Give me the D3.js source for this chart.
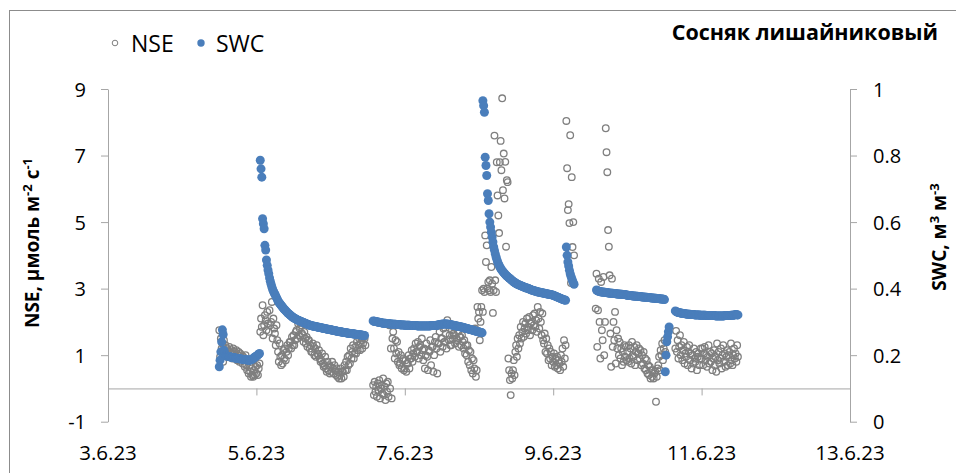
<!DOCTYPE html>
<html>
<head>
<meta charset="utf-8">
<script src="https://cdn.jsdelivr.net/npm/d3@7"></script>
<style>
  html, body { margin: 0; padding: 0; background: #ffffff; }
  svg { display: block; }
  text { font-family: "Open Sans", "Noto Sans", sans-serif; fill: #000; }
</style>
</head>
<body>
<svg id="chart" width="956" height="473"></svg>
<script>
// ---------------- DATA ----------------
const chartTitle = "Сосняк лишайниковый";
const seriesNames = ["NSE", "SWC"];
const xTickDates = ["2023-06-03", "2023-06-05", "2023-06-07", "2023-06-09", "2023-06-11", "2023-06-13"];
const xTickLabels = ["3.6.23", "5.6.23", "7.6.23", "9.6.23", "11.6.23", "13.6.23"];
const leftTicks = [-1, 1, 3, 5, 7, 9];
const leftTickLabels = ["-1", "1", "3", "5", "7", "9"];
const rightTicks = [0, 0.2, 0.4, 0.6, 0.8, 1];
const rightTickLabels = ["0", "0.2", "0.4", "0.6", "0.8", "1"];

// each day's series: 15-minute readings starting at the given time
const dayStarts = ["2023-06-04T12:00", "2023-06-05T00:00", "2023-06-06T00:00", "2023-06-07T00:00",
                   "2023-06-08T00:00", "2023-06-09T00:00", "2023-06-10T00:00", "2023-06-11T00:00"];
const stepMinutes = 15;

// NSE, µmol m-2 s-1
const nseJun4 = [1.75,0.95,1.5,1.2, 1.35,0.8,1.45,1.1, 1.3,1.05,1.2,1.15, 1.0,1.25,1.1,0.95,
  1.15,0.9,1.2,1.05, 1.1,0.95,1.15,0.85, 1.0,1.1,0.8,1.05, 0.9,1.0,0.75,0.95,
  0.85,0.65,1.0,0.7, 0.55,0.8,0.45,0.7, 0.5,0.35,0.6,0.4, 0.35,0.55,0.4,0.65];
const nseJun5 = [0.45,0.7,0.4,0.6, 0.75,1.7,2.1,1.85, 2.5,1.6,1.9,2.2, 2.05,1.75,2.3,1.95,
  1.7,2.35,1.9,2.0, 2.6,1.5,2.1,1.8, 1.65,1.3,1.9,1.45, 1.1,0.8,1.35,0.95,
  0.7,1.0,0.75,1.15, 0.9,1.2,0.85,1.1, 1.3,1.0,1.2,1.4, 1.4,1.2,1.55,1.3,
  1.6,1.3,1.45,1.7, 1.75,1.5,1.95,1.6, 1.8,1.55,1.9,1.65, 1.6,1.4,1.7,1.5,
  1.35,1.55,1.25,1.45, 1.45,1.2,1.3,1.1, 1.1,1.35,1.25,1.0, 1.2,0.95,1.3,1.05,
  1.0,1.15,0.9,0.8, 0.85,1.05,0.75,0.65, 0.7,0.95,0.6,0.5, 0.8,0.55,0.7,0.45];
const nseJun6 = [0.65,0.5,0.8,0.6, 0.45,0.7,0.55,0.4, 0.6,0.35,0.5,0.3, 0.4,0.6,0.3,0.5,
  0.5,0.35,0.7,0.55, 0.8,0.55,0.95,0.7, 1.0,0.75,1.2,0.9, 1.1,1.3,0.9,1.05,
  1.25,1.05,1.4,1.15, 1.3,1.5,1.15,1.35, 1.45,1.2,1.35,1.55, 1.5,1.3,null,null,
  null,null,null,null, null,null,null,0.1, -0.2,0.2,-0.1,0.05, -0.25,0.15,-0.05,0.25,
  -0.3,0.0,0.1,-0.15, 0.3,-0.2,0.05,-0.35, 0.15,-0.1,0.2,-0.25, 1.9,0.0,1.2,-0.3,
  1.5,1.7,1.2,0.9, 1.45,1.05,1.4,0.8, 1.1,0.7,0.75,1.0, 0.6,0.85,0.9,0.55];
const nseJun7 = [0.6,0.85,0.5,0.75, 0.75,1.0,0.6,0.9, 0.9,1.15,0.8,1.05, 1.2,0.95,1.35,1.1,
  1.1,1.4,0.9,1.25, 1.3,1.0,1.5,1.15, 0.85,1.2,0.6,1.0, 1.35,0.95,0.55,1.15,
  1.1,1.45,0.7,1.25, 1.25,0.5,1.0,1.4, 1.55,1.2,0.45,1.35, 1.35,1.7,1.1,1.5,
  1.5,1.25,1.8,1.4, 1.4,1.65,1.2,2.05, 1.9,1.45,1.6,1.3, 1.3,1.75,1.5,1.65,
  1.6,1.35,1.85,1.5, 1.45,1.7,1.25,1.55, 1.55,1.3,1.6,1.4, 1.2,1.45,1.05,1.3,
  1.0,1.3,0.8,1.15, 0.7,1.1,0.55,0.9, 0.45,0.85,0.6,1.8, 0.35,0.55,2.45,2.1];
const nseJun8 = [2.3,1.45,2.0,2.45, 2.95,2.3,3.0,2.9, 4.6,3.8,4.3,3.0, 3.2,2.95,3.25,2.9,
  3.65,3.15,2.27,2.95, 7.6,3.25,2.9,6.8, 5.8,5.2,4.67,6.8, 7.44,6.56,8.72,5.96,
  7.06,5.71,6.81,4.26, 6.26,6.2,0.9,0.55, 0.25,-0.2,0.45,0.3, 0.55,0.85,0.4,1.1,
  1.3,0.95,1.5,1.2, 1.6,1.35,1.85,1.5, 1.7,2.0,1.55,1.8, 1.95,1.65,2.1,1.75,
  1.85,2.15,1.6,1.95, 2.0,1.75,2.2,1.9, 2.25,1.85,2.05,1.7, 2.45,2.1,1.8,2.3,
  2.0,1.6,2.25,1.45, 1.35,1.65,1.1,1.5, 1.05,1.3,0.85,1.2, 0.9,1.1,0.7,0.95];
const nseJun9 = [0.8,1.05,0.65,0.9, 0.7,0.95,0.6,0.85, 0.75,0.55,1.0,0.8, 1.2,0.65,1.45,0.9,
  1.3,8.04,6.62,5.36, 5.54,4.97,7.61,3.17, 6.35,4.25,5.0,4.0, null,null,null,null,
  null,null,null,null, null,null,null,null, null,null,null,null, null,null,null,null,
  null,null,null,null, null,null,null,2.4, 3.45,1.25,2.35,3.3, 2.0,0.9,3.2,1.75,
  1.45,3.35,1.0,2.0, 7.82,7.1,6.5,4.76, 4.26,3.4,1.65,0.65, 3.3,1.25,2.0,1.45,
  2.3,0.75,1.75,1.2, 1.5,1.0,1.4,0.9, 1.2,0.7,1.1,0.8, 1.3,0.95,1.25,0.85];
const nseJun10 = [1.1,0.8,1.3,0.9, 1.2,0.75,1.4,1.0, 0.95,1.25,0.7,1.1, 1.3,0.85,1.05,1.2,
  0.9,1.15,0.7,1.0, 0.75,1.1,0.6,0.9, 0.55,0.85,0.45,0.7, 0.4,0.65,0.3,0.55,
  0.35,0.55,0.3,0.45, 0.5,-0.4,0.35,0.6, 0.7,0.95,0.55,1.15, 1.0,1.35,0.85,1.2,
  1.45,1.1,null,null, null,null,null,null, null,null,null,null, null,null,1.2,1.73,
  1.1,1.45,0.9,1.25, 1.6,1.0,1.3,0.85, 1.15,1.4,0.75,1.05, 0.95,1.25,0.7,1.1,
  1.3,0.85,1.05,0.6, 1.0,0.75,1.2,0.9, 0.8,1.1,0.55,0.95, 1.05,0.7,0.9,1.2];
const nseJun11 = [0.9,1.2,0.7,1.05, 1.25,0.85,1.0,0.65, 0.95,1.3,0.75,1.1, 0.8,1.05,0.55,0.9,
  1.15,0.7,0.95,0.5, 1.35,0.85,1.1,0.75, 0.9,1.2,0.6,1.0, 1.3,0.8,1.05,0.65,
  0.95,1.15,0.7,1.0, 1.1,0.75,1.35,0.85, 0.7,1.0,1.2,0.9, 1.05,0.8,1.3,0.95];

// SWC, m3 m-3
const swcJun4 = [0.165,0.185,0.21,0.24, 0.276,0.262,0.215,0.205, 0.2,0.198,0.197,0.196, 0.196,0.195,0.195,0.194,
  0.194,0.193,0.193,0.192, 0.192,0.191,0.191,0.19, 0.19,0.19,0.189,0.189, 0.188,0.188,0.188,0.187,
  0.187,0.187,0.186,0.186, 0.186,0.185,0.185,0.185, 0.185,0.186,0.187,0.189, 0.19,0.192,0.194,0.196];
const swcJun5 = [0.197,0.199,0.201,0.203, 0.205,0.786,0.76,0.735, 0.61,0.595,0.58,0.53, 0.516,0.486,0.47,0.456,
  0.445,0.432,0.422,0.413, 0.405,0.398,0.392,0.387, 0.383,0.378,0.373,0.368, 0.363,0.359,0.356,0.353,
  0.35,0.347,0.344,0.341, 0.338,0.336,0.333,0.331, 0.328,0.326,0.324,0.322, 0.32,0.318,0.316,0.314,
  0.313,0.311,0.31,0.309, 0.307,0.306,0.305,0.304, 0.303,0.302,0.301,0.3, 0.299,0.298,0.297,0.296,
  0.295,0.294,0.293,0.292, 0.291,0.29,0.29,0.289, 0.288,0.288,0.287,0.287, 0.286,0.286,0.285,0.285,
  0.284,0.284,0.283,0.283, 0.282,0.282,0.281,0.281, 0.28,0.28,0.279,0.279, 0.278,0.278,0.277,0.277];
const swcJun6 = [0.276,0.276,0.275,0.275, 0.274,0.274,0.273,0.273, 0.272,0.272,0.271,0.271, 0.27,0.27,0.27,0.269,
  0.269,0.268,0.268,0.268, 0.267,0.267,0.266,0.266, 0.266,0.265,0.265,0.265, 0.264,0.264,0.264,0.263,
  0.263,0.263,0.262,0.262, 0.262,0.261,0.261,0.261, 0.26,0.26,0.26,0.259, 0.259,null,null,null,
  null,null,null,null, null,null,null,0.303, 0.302,0.302,0.301,0.301, 0.3,0.3,0.299,0.299,
  0.298,0.298,0.297,0.297, 0.296,0.296,0.296,0.296, 0.295,0.295,0.295,0.295, 0.294,0.294,0.294,0.294,
  0.293,0.293,0.293,0.293, 0.293,0.292,0.292,0.292, 0.292,0.292,0.291,0.291, 0.291,0.291,0.291,0.291];
const swcJun7 = [0.29,0.29,0.29,0.29, 0.29,0.29,0.29,0.289, 0.289,0.289,0.289,0.289, 0.289,0.289,0.289,0.289,
  0.288,0.288,0.288,0.288, 0.288,0.288,0.288,0.288, 0.288,0.288,0.288,0.288, 0.288,0.288,0.288,0.288,
  0.288,0.288,0.289,0.289, 0.289,0.289,0.289,0.289, 0.289,0.29,0.29,0.291, 0.291,0.292,0.292,0.293,
  0.293,0.293,0.294,0.294, 0.294,0.294,0.294,0.293, 0.293,0.293,0.292,0.292, 0.291,0.291,0.29,0.29,
  0.289,0.289,0.288,0.288, 0.287,0.287,0.286,0.286, 0.285,0.285,0.284,0.284, 0.283,0.282,0.282,0.281,
  0.28,0.28,0.279,0.278, 0.278,0.277,0.276,0.276, 0.275,0.274,0.274,0.273, 0.272,0.272,0.271,0.27];
const swcJun8 = [0.27,0.269,0.268,0.268, 0.267,0.965,0.95,0.93, 0.795,0.77,0.74,0.685, 0.665,0.625,0.6,0.585,
  0.57,0.555,0.54,0.525, 0.515,0.505,0.496,0.488, 0.481,0.475,0.47,0.465, 0.461,0.457,0.454,0.451,
  0.448,0.445,0.443,0.44, 0.438,0.436,0.434,0.432, 0.43,0.428,0.426,0.424, 0.422,0.42,0.419,0.417,
  0.416,0.414,0.413,0.412, 0.411,0.41,0.409,0.408, 0.407,0.406,0.405,0.404, 0.403,0.402,0.402,0.401,
  0.4,0.399,0.398,0.397, 0.396,0.395,0.394,0.394, 0.393,0.392,0.392,0.391, 0.39,0.39,0.389,0.389,
  0.388,0.388,0.387,0.387, 0.386,0.386,0.385,0.385, 0.384,0.384,0.383,0.383, 0.382,0.382,0.381,0.381];
const swcJun9 = [0.38,0.379,0.378,0.377, 0.376,0.375,0.374,0.373, 0.372,0.371,0.37,0.369, 0.368,0.367,0.366,0.366,
  0.365,0.525,0.5,0.48, 0.468,0.455,0.445,0.437, 0.43,0.424,0.418,0.413, null,null,null,null,
  null,null,null,null, null,null,null,null, null,null,null,null, null,null,null,null,
  null,null,null,null, null,null,null,null, 0.396,0.394,0.393,0.392, 0.391,0.391,0.39,0.39,
  0.39,0.389,0.389,0.389, 0.388,0.388,0.388,0.387, 0.387,0.387,0.386,0.386, 0.386,0.386,0.385,0.385,
  0.385,0.385,0.384,0.384, 0.384,0.384,0.383,0.383, 0.383,0.383,0.382,0.382, 0.382,0.382,0.381,0.381];
const swcJun10 = [0.38,0.38,0.379,0.379, 0.379,0.379,0.378,0.378, 0.378,0.378,0.377,0.377, 0.377,0.377,0.376,0.376,
  0.376,0.376,0.375,0.375, 0.375,0.375,0.374,0.374, 0.374,0.374,0.373,0.373, 0.373,0.373,0.372,0.372,
  0.372,0.372,0.371,0.371, 0.371,0.371,0.37,0.37, 0.37,0.37,0.369,0.369, 0.369,0.369,0.368,0.368,
  0.367,0.15,0.2,0.24, 0.255,0.27,0.285,null, null,null,null,null, null,null,0.333,0.331,
  0.33,0.329,0.328,0.328, 0.327,0.327,0.326,0.326, 0.325,0.325,0.325,0.324, 0.324,0.324,0.323,0.323,
  0.323,0.323,0.322,0.322, 0.322,0.322,0.322,0.321, 0.321,0.321,0.321,0.321, 0.321,0.321,0.32,0.32];
const swcJun11 = [0.32,0.32,0.32,0.32, 0.32,0.32,0.319,0.319, 0.319,0.319,0.319,0.319, 0.319,0.319,0.319,0.319,
  0.319,0.319,0.318,0.318, 0.318,0.318,0.318,0.318, 0.318,0.318,0.318,0.318, 0.318,0.318,0.319,0.319,
  0.319,0.319,0.319,0.319, 0.319,0.319,0.32,0.32, 0.32,0.32,0.321,0.321, 0.322,0.322,0.321,0.321];

const nseDays = [nseJun4, nseJun5, nseJun6, nseJun7, nseJun8, nseJun9, nseJun10, nseJun11];
const swcDays = [swcJun4, swcJun5, swcJun6, swcJun7, swcJun8, swcJun9, swcJun10, swcJun11];

// ---------------- CHART ----------------
const parseTime = d3.timeParse("%Y-%m-%dT%H:%M");
const parseDay = d3.timeParse("%Y-%m-%d");

function buildSeries(days) {
  const pts = [];
  days.forEach((vals, d) => {
    const t0 = parseTime(dayStarts[d]);
    vals.forEach((v, i) => {
      if (v !== null) pts.push({ t: d3.timeMinute.offset(t0, i * stepMinutes), v: v });
    });
  });
  return pts;
}
const nsePts = buildSeries(nseDays);
const swcPts = buildSeries(swcDays);

const plot = { left: 108, right: 850, top: 89, bottom: 421.7 };
const axisColor = "#a6a6a6";
const nseColor = "#7f7f7f";
const swcColor = "#4a7ebb";

const svg = d3.select("#chart");

// outer chart frame
svg.append("rect")
  .attr("x", 9.5).attr("y", 10.5)
  .attr("width", 980).attr("height", 500)
  .attr("fill", "none").attr("stroke", "#8c8c8c").attr("stroke-width", 1);

const x = d3.scaleTime()
  .domain([parseDay(xTickDates[0]), parseDay(xTickDates[xTickDates.length - 1])])
  .range([plot.left, plot.right]);
const yL = d3.scaleLinear().domain([-1, 9]).range([plot.bottom, plot.top]);
const yR = d3.scaleLinear().domain([0, 1]).range([plot.bottom, plot.top]);

// left axis
const gL = svg.append("g").attr("transform", `translate(${plot.left},0)`)
  .call(d3.axisLeft(yL).tickValues(leftTicks).tickSize(7).tickSizeOuter(0)
        .tickFormat((d, i) => leftTickLabels[i]));
gL.select(".domain").attr("stroke", axisColor);
gL.selectAll(".tick line").attr("stroke", axisColor);
gL.selectAll(".tick text").attr("x", -22).attr("dy", "0.36em")
  .style("font-size", "20px").style("font-family", '"Open Sans", sans-serif').attr("fill", "#000");

// right axis
const gR = svg.append("g").attr("transform", `translate(${plot.right},0)`)
  .call(d3.axisRight(yR).tickValues(rightTicks).tickSize(7).tickSizeOuter(0)
        .tickFormat((d, i) => rightTickLabels[i]));
gR.select(".domain").attr("stroke", axisColor);
gR.selectAll(".tick line").attr("stroke", axisColor);
gR.selectAll(".tick text").attr("x", 23).attr("dy", "0.36em")
  .style("font-size", "20px").style("font-family", '"Open Sans", sans-serif').attr("fill", "#000");

// bottom axis (crosses at NSE = 0), labels placed low
const tickDates = xTickDates.map(parseDay);
const gX = svg.append("g").attr("transform", `translate(0,${yL(0)})`)
  .call(d3.axisBottom(x).tickValues(tickDates).tickSize(7).tickSizeOuter(0).tickFormat(""));
gX.select(".domain").attr("stroke", axisColor);
gX.selectAll(".tick line").attr("stroke", axisColor);

svg.append("g").selectAll("text").data(tickDates).join("text")
  .attr("x", d => x(d)).attr("y", 460)
  .attr("text-anchor", "middle")
  .style("font-size", "20.5px")
  .text((d, i) => xTickLabels[i]);

// NSE points (open circles)
svg.append("g").selectAll("circle").data(nsePts).join("circle")
  .attr("cx", d => x(d.t)).attr("cy", d => yL(d.v)).attr("r", 3.3)
  .attr("fill", "none").attr("stroke", nseColor).attr("stroke-width", 1.3);

// SWC points (filled)
svg.append("g").selectAll("circle").data(swcPts).join("circle")
  .attr("cx", d => x(d.t)).attr("cy", d => yR(d.v)).attr("r", 4.5)
  .attr("fill", swcColor);

// Legend
const leg = svg.append("g");
leg.append("circle").attr("cx", 115).attr("cy", 43).attr("r", 2.8)
  .attr("fill", "none").attr("stroke", nseColor).attr("stroke-width", 1);
leg.append("text").attr("x", 131).attr("y", 51.5).style("font-size", "23px").text(seriesNames[0]);
leg.append("circle").attr("cx", 201).attr("cy", 43).attr("r", 3.7).attr("fill", swcColor);
leg.append("text").attr("x", 216).attr("y", 51.5).style("font-size", "23px").text(seriesNames[1]);

// Title
svg.append("text").attr("x", 938).attr("y", 40).attr("text-anchor", "end")
  .style("font-size", "21.5px").style("font-weight", "bold").text(chartTitle);

// Axis titles
const lt = svg.append("text")
  .attr("transform", "translate(39,243) rotate(-90)")
  .attr("text-anchor", "middle")
  .style("font-size", "19px").style("font-weight", "bold");
lt.append("tspan").text("NSE, μмоль м");
lt.append("tspan").attr("dy", "-7").style("font-size", "13px").text("-2");
lt.append("tspan").attr("dy", "7").text(" с");
lt.append("tspan").attr("dy", "-7").style("font-size", "13px").text("-1");

const rt = svg.append("text")
  .attr("transform", "translate(946,237) rotate(-90)")
  .attr("text-anchor", "middle")
  .style("font-size", "19px").style("font-weight", "bold");
rt.append("tspan").text("SWC, м");
rt.append("tspan").attr("dy", "-7").style("font-size", "13px").text("3");
rt.append("tspan").attr("dy", "7").text(" м");
rt.append("tspan").attr("dy", "-7").style("font-size", "13px").text("-3");
</script>
</body>
</html>
